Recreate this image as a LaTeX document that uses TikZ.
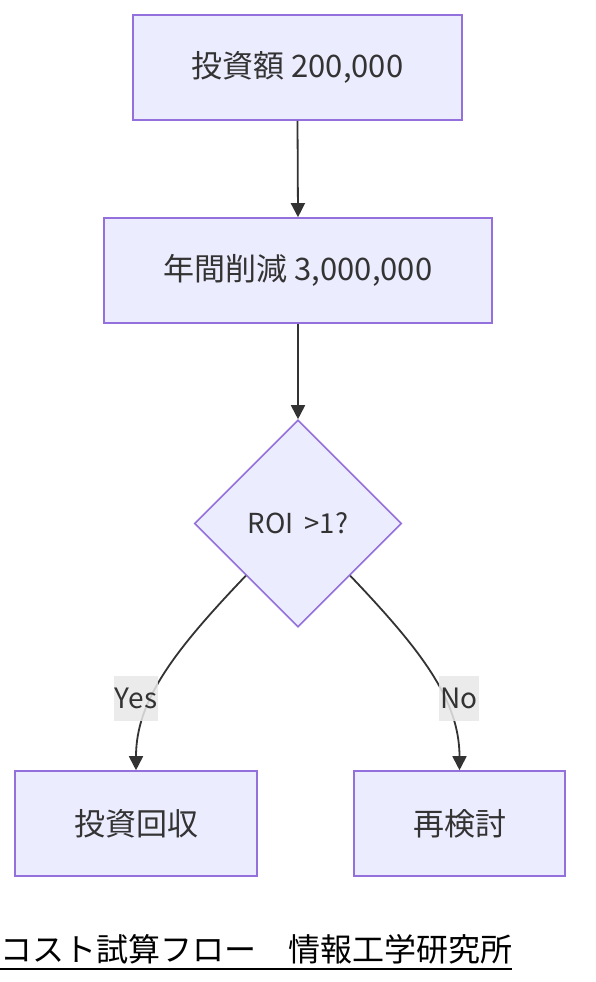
\documentclass[tikz,border=0pt]{standalone}
\usepackage{fontspec}
\setmainfont{Noto Sans CJK JP}
\usetikzlibrary{shapes.geometric,arrows.meta}
\definecolor{boxfill}{HTML}{ECECFF}
\definecolor{boxline}{HTML}{9370DB}
\definecolor{ink}{HTML}{333333}
\definecolor{lblbg}{HTML}{E8E8E8}
\tikzset{
  procbox/.style={draw=boxline, fill=boxfill, line width=1.6pt, minimum height=105pt, inner sep=0pt, text=ink, font=\fontsize{31pt}{35pt}\selectfont},
  decbox/.style={diamond, aspect=1, draw=boxline, fill=boxfill, line width=1.6pt, minimum width=207pt, minimum height=207pt, inner sep=0pt, text=ink, font=\fontsize{27.5pt}{31pt}\selectfont},
  flow/.style={draw=ink, line width=1.8pt, -{Triangle[length=14pt,width=14pt]}},
  elabel/.style={fill=lblbg, fill opacity=0.85, text opacity=1, text=ink, inner sep=1pt, minimum height=45pt, font=\fontsize{28pt}{32pt}\selectfont}
}
\begin{document}
\begin{tikzpicture}[x=1pt,y=-1pt]
\useasboundingbox (0,0) rectangle (596,982);
\node[procbox, minimum width=329pt] (inv) at (297.5,67.5) {投資額 200,000};
\node[procbox, minimum width=388pt] (cut) at (298,270.5) {年間削減 3,000,000};
\node[decbox] (roi) at (298,523.5) {ROI \,>1?};
\node[procbox, minimum width=242pt] (yes) at (136,823.5) {投資回収};
\node[procbox, minimum width=211pt] (no) at (459.5,823.5) {再検討};
\draw[flow] (inv.south) -- (cut.north);
\draw[flow] (cut.south) -- (roi.north);
\draw[flow] (roi.south west) .. controls (175,650) and (136,700) .. (yes.north);
\draw[flow] (roi.south east) .. controls (421,650) and (459.5,700) .. (no.north);
\node[elabel, minimum width=44pt] (ly) at (136,698.5) {Yes};
\node[elabel, minimum width=36pt] (ln) at (459,698.5) {No};
\node[anchor=base west, inner sep=0pt, font=\fontsize{32pt}{36pt}\selectfont] (foot) at (0,961) {コスト試算フロー　情報工学研究所};
\draw[line width=2pt] ([yshift=-8pt]foot.base west) -- ([yshift=-8pt]foot.base east);
\end{tikzpicture}
\end{document}
